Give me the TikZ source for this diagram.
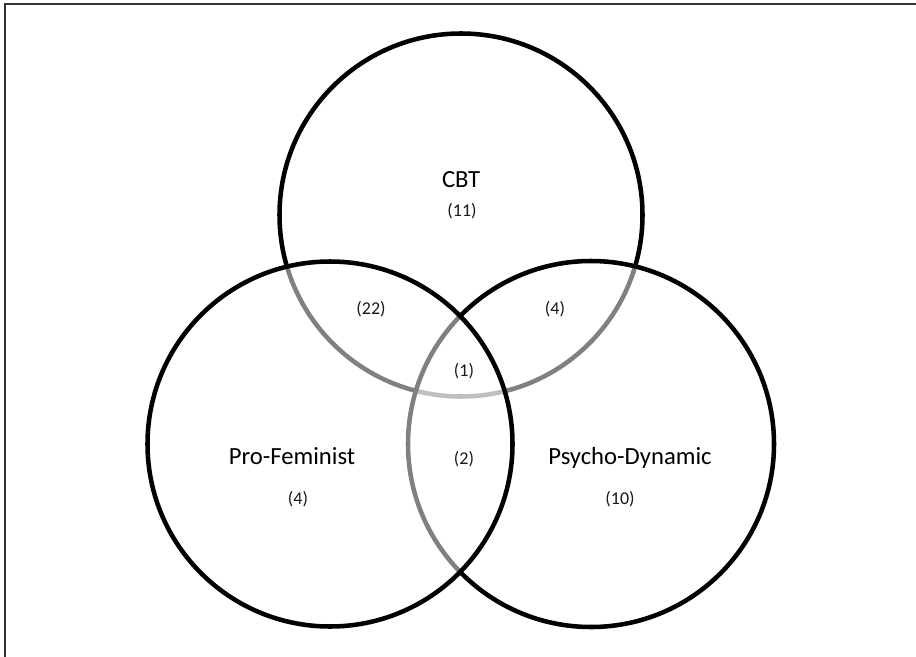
\documentclass[tikz,border=0pt]{standalone}
\usepackage{fontspec}
\setmainfont{Carlito}
\begin{document}
\begin{tikzpicture}[x=0.75pt, y=-0.75pt]
	\tikzstyle{set} = [ draw, circle, line width=3.4pt, fill=white, fill opacity=0.5, inner sep=0pt ];
	\tikzstyle{setname} = [ anchor=base, inner sep=0pt, font={\fontsize{18.5}{22}\selectfont} ];
	\tikzstyle{count} = [ anchor=base, inner sep=0pt, text=black!90, font={\fontsize{13.5}{16}\selectfont} ];
	\tikzstyle{frame} = [ line width=1.5pt, draw=black!80 ];

	\useasboundingbox (0,0) rectangle (916,656);
	\draw[frame] (5,670) -- (5,4) -- (930,4);

	% sets, bottom one first
	\def \sets {cbt/461/215/363, psy/591/444/366, pro/330/444/365}

	\foreach \n/\x/\y/\d in \sets {
		\pgfmathsetlengthmacro \dd {\d*0.75pt}
		\node[set, minimum size=\dd] (\n) at (\x,\y) {};
	}

	\node[setname] (cbtname) at (461,187) {CBT};
	\node[setname] (proname) at (292,464) {Pro-Feminist};
	\node[setname] (psyname) at (630,464) {Psycho-Dynamic};

	\node[count] (cbtonly) at (462,216.5) {(11)};
	\node[count] (cbtpro) at (371,314.5) {(22)};
	\node[count] (cbtpsy) at (555,314.5) {(4)};
	\node[count] (allthree) at (464,376.5) {(1)};
	\node[count] (propsy) at (464,464.5) {(2)};
	\node[count] (proonly) at (298,504) {(4)};
	\node[count] (psyonly) at (620,504) {(10)};
\end{tikzpicture}
\end{document}
